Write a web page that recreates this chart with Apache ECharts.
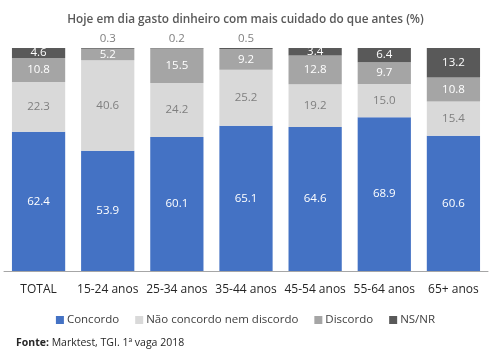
<!DOCTYPE html>
<html><head><meta charset="utf-8">
<script src="https://cdn.jsdelivr.net/npm/echarts@6/dist/echarts.min.js"></script>
<style>html,body{margin:0;padding:0;background:#fff}#c{width:491px;height:353px}</style>
</head><body><div id="c"></div>
<script>
const categories = ['TOTAL','15-24 anos','25-34 anos','35-44 anos','45-54 anos','55-64 anos','65+ anos'];
const concordo = [62.4, 53.9, 60.1, 65.1, 64.6, 68.9, 60.6];
const naoConcordo = [22.3, 40.6, 24.2, 25.2, 19.2, 15.0, 15.4];
const discordo = [10.8, 5.2, 15.5, 9.2, 12.8, 9.7, 10.8];
const nsnr = [4.6, 0.3, 0.2, 0.5, 3.4, 6.4, 13.2];
const seriesNames = ['Concordo','Não concordo nem discordo','Discordo','NS/NR'];
const colors = ['#4472C4','#D9D9D9','#A5A5A5','#595959'];
const labelColors = ['#ffffff','#7f7f7f','#ffffff','#ffffff'];
const font = 'Open Sans';

const chart = echarts.init(document.getElementById('c'));
function mk(i, data){
  return {
    name: seriesNames[i], type:'bar', stack:'t', barWidth:'77%',
    itemStyle:{color:colors[i]},
    data: data.map(v => {
      const small = i===3 && v < 1;
      return {value:v, label: small ? {position:'top', color:'#7f7f7f', distance:3} : {}};
    }),
    label:{show:true, position:'inside', color:labelColors[i], fontSize:11.5, fontFamily:font,
      formatter: p => p.value.toFixed(1)}
  };
}
chart.setOption({
  animation:false,
  color: colors,
  title:{text:'Hoje em dia gasto dinheiro com mais cuidado do que antes (%)', left:'center', top:9,
    textStyle:{fontSize:11.8, fontWeight:600, color:'#595959', fontFamily:font}},
  grid:{left:4, right:3, top:48, bottom:82},
  xAxis:{type:'category', data:categories,
    axisLine:{lineStyle:{color:'#a6a6a6'}}, axisTick:{show:false},
    axisLabel:{color:'#262626', fontSize:12, fontFamily:font, margin:13, interval:0}},
  yAxis:{type:'value', min:0, max:100, show:false, splitLine:{show:false}},
  legend:{top:309, left:'center', itemWidth:8, itemHeight:8, itemGap:16, icon:'rect',
    textStyle:{fontSize:11.5, color:'#404040', fontFamily:font, padding:[0,0,0,-2]}},
  series:[mk(0,concordo), mk(1,naoConcordo), mk(2,discordo), mk(3,nsnr)],
  graphic:[{type:'text', left:16, top:338,
    style:{text:'{b|Fonte:} Marktest, TGI. 1ª vaga 2018', fontSize:10.5, fontFamily:font, fill:'#262626',
      rich:{b:{fontWeight:'bold', fontSize:10.5, fontFamily:font, fill:'#262626'}}}}]
});
</script></body></html>
